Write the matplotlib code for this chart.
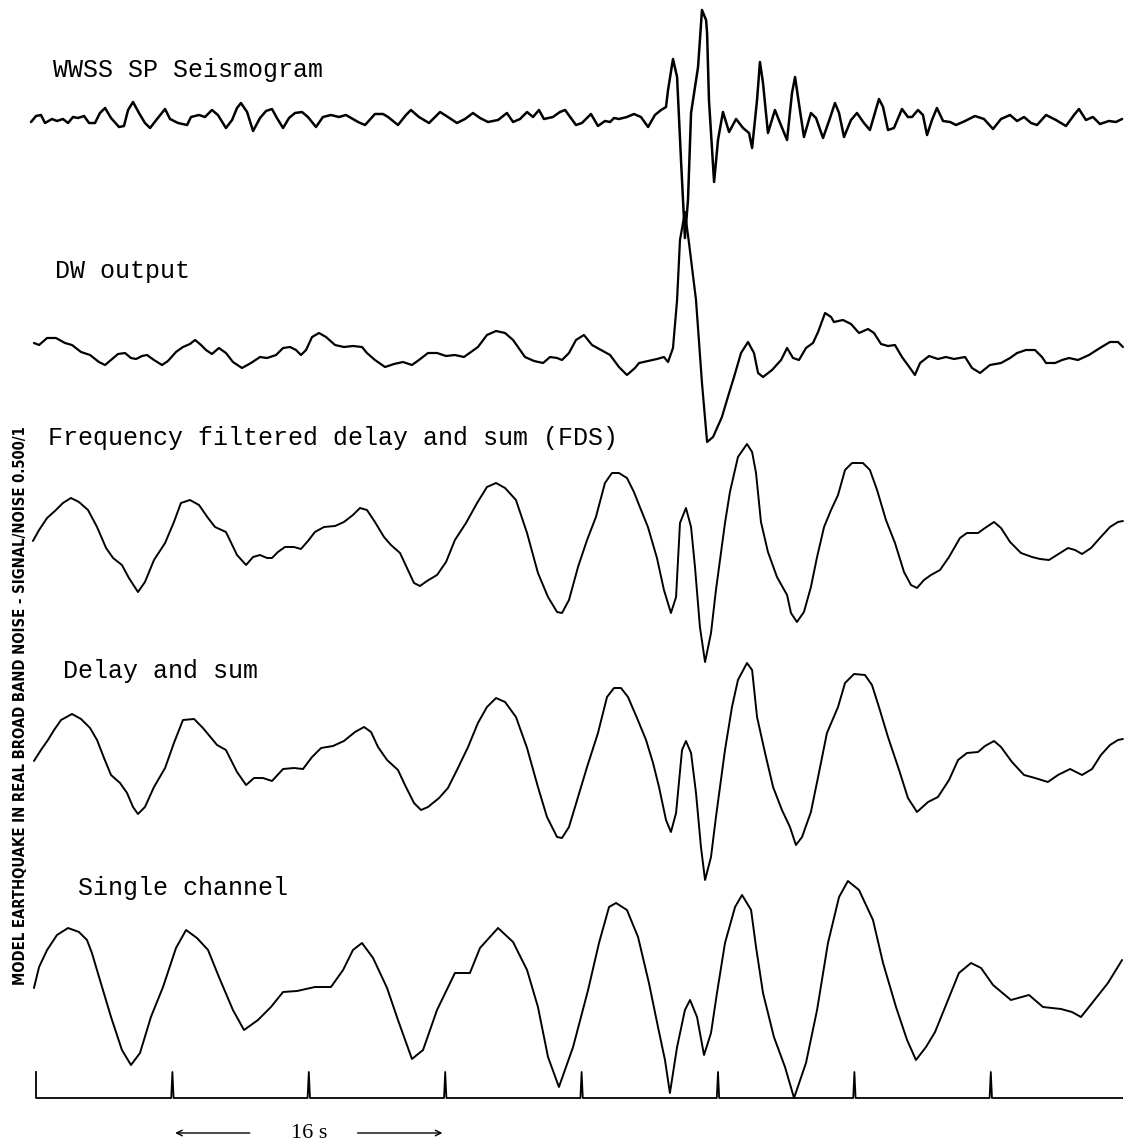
import matplotlib
matplotlib.use('Agg')
import matplotlib.pyplot as plt
import numpy as np

# time in seconds, amplitude in trace units
wwss_t = [-0.29, 0.00, 0.29, 0.53, 0.94, 1.23, 1.58, 1.88, 2.17, 2.46, 2.82, 3.11, 3.46, 3.75, 4.05, 4.40,
          4.87, 5.16, 5.40, 5.69, 6.04, 6.39, 6.69, 7.10, 7.57, 7.86, 8.33, 8.86, 9.09, 9.56, 9.91, 10.32,
          10.67, 11.14, 11.50, 11.79, 12.02, 12.38, 12.73, 13.14, 13.49, 13.84, 14.13, 14.49, 14.84, 15.19,
          15.60, 15.95, 16.42, 16.83, 17.30, 17.77, 18.18, 18.89, 19.30, 19.88, 20.35, 20.65, 21.23, 21.70,
          21.99, 22.46, 23.05, 23.70, 24.16, 24.69, 25.16, 25.63, 26.04, 26.51, 27.10, 27.62, 27.98, 28.39,
          28.80, 29.15, 29.50, 29.79, 30.32, 30.73, 31.03, 31.67, 32.02, 32.55, 32.96, 33.37, 33.67, 33.90,
          34.19, 34.66, 35.07, 35.48, 35.90, 36.30, 36.66, 36.95, 37.07, 37.36, 37.60, 37.83, 38.06, 38.24,
          38.42, 38.65, 38.83, 39.06, 39.30, 39.36, 39.47, 39.77, 40.00, 40.29, 40.65, 41.06, 41.47, 41.82,
          42.00, 42.29, 42.46, 42.64, 42.93, 43.34, 43.64, 44.05, 44.34, 44.52, 44.69, 45.04, 45.45, 45.75,
          46.16, 46.57, 46.86, 47.10, 47.39, 47.80, 48.15, 48.56, 48.91, 49.44, 49.68, 49.97, 50.32, 50.79,
          51.14, 51.38, 51.73, 52.02, 52.26, 52.55, 52.84, 53.20, 53.61, 53.96, 54.49, 55.07, 55.60, 56.13,
          56.60, 57.13, 57.54, 57.95, 58.36, 58.71, 59.24, 59.82, 60.41, 60.88, 61.17, 61.58, 61.99, 62.40,
          62.93, 63.34, 63.70]
wwss_a = [-2, 4, 5, -3, 1, -1, 1, -3, 3, 2, 4, -3, -3, 7, 12, 2,
          -7, -6, 10, 18, 7, -3, -8, 1, 11, 1, -3, -5, 3, 5, 3, 10,
          5, -8, 0, 12, 17, 8, -11, 2, 9, 11, 2, -8, 2, 7,
          8, 3, -7, 3, 5, 3, 5, -2, -5, 6, 6, 3, -5, 5,
          10, 3, -3, 8, 3, -3, 1, 7, 2, -2, 0, 7, -2, 1,
          8, 3, 10, 1, 3, 8, 10, -5, -3, 6, -6, -1, -2, 2,
          1, 3, 6, 3, -7, 5, 10, 13, 30, 61, 43, -40, -118, -80,
          7, 33, 53, 110, 100, 87, 20, -62, -20, 8, -12, 1, -8, -13,
          -28, 20, 58, 37, -13, 10, -3, -20, 27, 43, 23, -17, 7, 2,
          -18, 2, 17, 7, -17, 0, 7, -3, -10, 21, 13, -10, -8, 11,
          3, 3, 10, 5, -15, 0, 12, -1, -2, -5, -1, 4, 1, -9,
          1, 5, -1, 3, -3, -5, 5, 0, -6, 5, 11, 0, 3, -4,
          -1, -2, 1]

dw_t = [-0.12, 0.18, 0.65, 1.17, 1.70, 2.11, 2.64, 3.17, 3.69, 4.05, 4.40, 4.81, 5.22, 5.57, 5.87, 6.22,
        6.51, 6.92, 7.39, 7.74, 8.21, 8.62, 9.03, 9.33, 9.68, 9.97, 10.32, 10.73, 11.14, 11.55, 12.08,
        12.61, 13.14, 13.55, 14.08, 14.49, 14.90, 15.25, 15.54, 15.84, 16.19, 16.60, 17.01, 17.54, 18.06,
        18.59, 19.12, 19.41, 19.88, 20.47, 21.00, 21.52, 22.05, 22.46, 22.99, 23.52, 24.05, 24.57, 25.10,
        25.51, 25.92, 26.45, 26.98, 27.51, 27.98, 28.39, 28.68, 29.21, 29.74, 30.15, 30.56, 30.85, 31.26,
        31.67, 32.14, 32.61, 33.14, 33.67, 34.19, 34.66, 35.13, 35.37, 35.89, 36.42, 36.83, 37.07, 37.36,
        37.60, 37.77, 38.06, 38.30, 38.71, 39.06, 39.36, 39.71, 40.23, 40.65, 40.94, 41.35, 41.76, 42.11,
        42.35, 42.64, 43.17, 43.70, 44.05, 44.40, 44.75, 45.16, 45.57, 45.87, 46.28, 46.63, 46.80, 47.33,
        47.80, 48.27, 48.80, 49.15, 49.56, 49.97, 50.38, 50.79, 51.26, 51.55, 51.85, 52.38, 52.90, 53.37,
        53.84, 54.49, 54.90, 55.37, 55.95, 56.60, 57.13, 57.54, 58.06, 58.59, 59.00, 59.24, 59.77, 60.18,
        60.59, 61.11, 61.76, 62.40, 62.99, 63.46, 63.75]
dw_a = [9, 7, 14, 14, 9, 7, 0, -3, -10, -13, -8, -2, -1, -6, -7, -4,
        -3, -8, -13, -9, 0, 5, 8, 12, 7, 2, -2, 4, -1, -10, -16,
        -11, -5, -6, -3, 4, 5, 2, -3, 2, 15, 19, 15, 7, 5,
        6, 5, -1, -8, -15, -12, -10, -13, -8, -1, -1, -4, -3, -5,
        0, 5, 17, 21, 19, 12, 2, -5, -9, -11, -5, -6, -8, -1,
        12, 17, 7, 2, -3, -15, -23, -16, -11, -9, -7, -5, -10, 4,
        52, 112, 140, 109, 52, -31, -90, -85, -65, -41, -25, -1, 10, -1,
        -21, -25, -18, -8, 4, -6, -8, 4, 9, 20, 39, 35, 30, 32,
        28, 19, 23, 19, 8, 6, 7, -5, -16, -23, -11, -4, -7, -5,
        -7, -5, -16, -21, -13, -11, -6, -1, 2, 2, -5, -11, -11, -8,
        -6, -8, -3, 4, 10, 10, 5]

fds_t = [-0.18, 0.18, 0.65, 1.17, 1.58, 2.05, 2.52, 3.05, 3.58, 4.11, 4.52, 5.04, 5.45, 5.98, 6.39, 6.92,
         7.57, 8.09, 8.50, 9.03, 9.56, 10.09, 10.50, 11.14, 11.79, 12.32, 12.73, 13.14, 13.55, 13.84, 14.19,
         14.60, 15.13, 15.54, 15.95, 16.36, 16.89, 17.54, 18.06, 18.59, 19.00, 19.41, 19.88, 20.41, 20.82,
         21.35, 21.76, 22.17, 22.52, 22.93, 23.52, 24.05, 24.57, 25.22, 25.87, 26.45, 26.98, 27.51, 28.15,
         28.80, 29.44, 30.03, 30.56, 30.85, 31.26, 31.79, 32.32, 32.84, 33.37, 33.78, 34.19, 34.66, 35.07,
         35.37, 35.89, 36.42, 36.83, 37.24, 37.54, 37.77, 38.12, 38.42, 38.65, 38.94, 39.24, 39.59, 39.88,
         40.41, 40.70, 41.17, 41.70, 42.00, 42.23, 42.52, 42.93, 43.46, 44.05, 44.28, 44.63, 45.04, 45.45,
         45.81, 46.22, 46.63, 47.04, 47.45, 47.86, 48.50, 48.91, 49.33, 49.85, 50.38, 50.91, 51.32, 51.67,
         52.08, 52.49, 53.02, 53.55, 54.19, 54.60, 55.25, 55.66, 56.19, 56.60, 57.13, 57.77, 58.42, 58.89,
         59.41, 60.06, 60.53, 60.94, 61.35, 61.88, 62.40, 62.99, 63.46, 63.75]
fds_a = [4, 15, 27, 35, 42, 47, 43, 35, 18, -3, -13, -20, -33, -47, -37, -15,
         2, 23, 42, 45, 40, 27, 18, 13, -10, -20, -12, -10, -13, -13, -7,
         -2, -2, -4, 4, 13, 18, 19, 23, 30, 37, 35, 23, 8, 0,
         -8, -23, -38, -41, -36, -30, -17, 5, 22, 42, 58, 62, 57, 45,
         12, -28, -52, -67, -68, -55, -22, 5, 28, 62, 72, 72, 67, 53,
         40, 18, -13, -45, -68, -52, 22, 37, 18, -22, -82, -117, -88, -45,
         22, 53, 88, 101, 93, 72, 23, -7, -32, -50, -68, -77, -67, -42,
         -12, 18, 35, 50, 75, 82, 82, 75, 55, 25, 2, -27, -40, -43,
         -35, -30, -25, -12, 7, 12, 12, 17, 23, 17, 3, -8, -12, -14,
         -15, -8, -3, -5, -9, -3, 7, 18, 23, 24]

ds_t = [-0.12, 0.29, 0.70, 1.06, 1.47, 2.11, 2.64, 3.17, 3.58, 3.99, 4.40, 4.93, 5.34, 5.69, 5.98, 6.39,
        6.92, 7.57, 8.09, 8.62, 9.27, 9.79, 10.62, 11.14, 11.79, 12.32, 12.79, 13.31, 13.84, 14.49, 15.13,
        15.66, 16.19, 16.72, 17.42, 18.06, 18.71, 19.24, 19.65, 20.06, 20.59, 21.23, 21.64, 22.17, 22.58,
        22.99, 23.64, 24.16, 24.69, 25.34, 25.92, 26.45, 26.98, 27.51, 28.15, 28.80, 29.44, 29.97, 30.56,
        30.85, 31.26, 31.79, 32.32, 32.96, 33.49, 33.90, 34.31, 34.72, 35.25, 35.78, 36.19, 36.54, 36.95,
        37.24, 37.54, 37.89, 38.12, 38.42, 38.71, 39.00, 39.24, 39.59, 39.88, 40.41, 40.82, 41.17, 41.70,
        42.00, 42.29, 42.76, 43.23, 43.75, 44.22, 44.57, 44.93, 45.45, 45.87, 46.39, 47.04, 47.45, 47.98,
        48.62, 49.03, 49.44, 49.97, 50.62, 51.14, 51.67, 52.32, 52.90, 53.55, 54.08, 54.60, 55.25, 55.66,
        56.19, 56.60, 57.24, 57.95, 58.59, 59.35, 59.94, 60.65, 61.35, 61.94, 62.46, 62.99, 63.46, 63.75]
ds_a = [9, 20, 30, 40, 50, 56, 51, 42, 30, 12, -5, -13, -23, -37, -44, -37,
        -17, 2, 27, 50, 51, 42, 25, 20, -2, -15, -8, -8, -11, 1, 2,
        1, 13, 22, 24, 29, 38, 43, 38, 23, 10, 0, -15, -33, -40,
        -37, -28, -18, 0, 23, 47, 63, 72, 68, 53, 22, -17, -47, -67,
        -68, -57, -27, 3, 37, 73, 82, 82, 73, 52, 30, 7, -17, -50,
        -62, -43, 20, 29, 17, -23, -77, -110, -87, -47, 20, 63, 90, 107,
        100, 53, 17, -17, -40, -57, -75, -67, -42, -7, 37, 63, 87, 96,
        95, 85, 63, 33, 0, -28, -42, -32, -27, -10, 10, 17, 18, 24,
        29, 23, 8, -5, -8, -12, -5, 1, -5, 1, 15, 25, 30, 31]

sc_t = [-0.12, 0.18, 0.65, 1.23, 1.88, 2.52, 2.99, 3.28, 3.75, 4.40, 5.04, 5.57, 6.10, 6.74, 7.45, 8.21,
        8.80, 9.44, 10.09, 10.73, 11.55, 12.20, 13.02, 13.78, 14.49, 15.31, 16.36, 17.30, 18.01, 18.59,
        19.12, 19.77, 20.59, 21.23, 22.05, 22.70, 23.52, 24.57, 25.45, 26.04, 27.10, 27.98, 28.80, 29.44,
        30.03, 30.67, 31.50, 32.38, 33.02, 33.61, 34.02, 34.66, 35.31, 35.95, 36.48, 36.89, 37.18, 37.60,
        38.06, 38.36, 38.77, 39.18, 39.59, 39.94, 40.41, 41.00, 41.41, 41.94, 42.23, 42.64, 43.28, 43.93,
        44.46, 45.16, 45.81, 46.45, 47.10, 47.62, 48.27, 49.09, 49.68, 50.44, 51.09, 51.61, 52.20, 52.73,
        53.49, 54.13, 54.84, 55.43, 56.13, 57.18, 58.24, 59.06, 60.12, 60.76, 61.29, 61.99, 62.87, 63.70]
sc_a = [-3, 18, 35, 50, 57, 53, 45, 32, 5, -32, -65, -80, -68, -32, -2, 37,
        55, 47, 35, 8, -25, -45, -35, -22, -7, -6, -2, -2, 15, 35,
        42, 27, -3, -35, -74, -65, -25, 12, 12, 37, 57, 43, 15, -22,
        -72, -102, -62, -5, 42, 78, 82, 75, 48, 2, -42, -75, -108, -62,
        -25, -15, -32, -70, -48, -8, 42, 78, 90, 75, 38, -8, -52, -82,
        -113, -78, -25, 42, 88, 104, 95, 65, 22, -22, -55, -75, -62, -47,
        -15, 12, 22, 17, 0, -15, -10, -22, -24, -27, -32, -17, 2, 25]

traces = [
    ("WWSS SP Seismogram", wwss_t, wwss_a),
    ("DW output", dw_t, dw_a),
    ("Frequency filtered delay and sum (FDS)", fds_t, fds_a),
    ("Delay and sum", ds_t, ds_a),
    ("Single channel", sc_t, sc_a),
]
tick_times = [0, 8, 16, 24, 32, 40, 48, 56]
record_end = 63.7
scale_bar = (8, 24)   # 16 s
side_label = "MODEL EARTHQUAKE IN REAL BROAD BAND NOISE - SIGNAL/NOISE 0.500/1"

# layout (figure pixels)
W, H = 1124, 1145
PX_PER_S = 17.05
X0 = 36
bases = [120, 352, 545, 770, 985]
label_xy = [(53, 70), (55, 271), (48, 438), (63, 671), (78, 888)]
widths = [1.8, 1.6, 1.4, 1.4, 1.4]
tick_base, tick_h = 1098, 26


def sec(px):
    return (px - X0) / PX_PER_S


fig = plt.figure(figsize=(W / 100, H / 100), dpi=100)
ax = fig.add_axes([0, 0, 1, 1])
ax.set_xlim(sec(0), sec(W))
ax.set_ylim(H, 0)
ax.axis('off')

mono = ['Liberation Mono', 'DejaVu Sans Mono']
for (name, t, a), base, (lx, ly), lw in zip(traces, bases, label_xy, widths):
    ax.plot(t, base - np.array(a), color='black', lw=lw,
            solid_joinstyle='round', solid_capstyle='round')
    ax.text(sec(lx), ly, name, family=mono, fontsize=18, ha='left', va='center', color='black')

# time marks
tx, ty = [0], [tick_base - tick_h]
for tt in tick_times:
    if tt == 0:
        tx += [0]
        ty += [tick_base]
        continue
    tx += [tt - 0.07, tt, tt + 0.07]
    ty += [tick_base, tick_base - tick_h, tick_base]
tx.append(record_end)
ty.append(tick_base)
ax.plot(tx, ty, color='black', lw=1.3)

# 16 s scale bar
mid = 0.5 * (scale_bar[0] + scale_bar[1])
ax.text(mid, 1133, "16 s", family=['Liberation Serif', 'DejaVu Serif'], fontsize=16,
        ha='center', va='center')
arrow = dict(arrowstyle='->', lw=1.0, color='black', mutation_scale=10)
ax.annotate('', xy=(scale_bar[0], 1133), xytext=(mid - 3.3, 1133), arrowprops=arrow)
ax.annotate('', xy=(scale_bar[1], 1133), xytext=(mid + 2.7, 1133), arrowprops=arrow)

# side caption, fitted to its printed length
cap = ax.text(sec(21), 706, side_label, rotation=90, family='DejaVu Sans', fontweight='bold',
              fontstretch='condensed', fontsize=10, ha='center', va='center')
fig.canvas.draw()
ext = cap.get_window_extent(fig.canvas.get_renderer())
cap.set_fontsize(10 * 557 / ext.height)

fig.savefig('out.png', dpi=100)
